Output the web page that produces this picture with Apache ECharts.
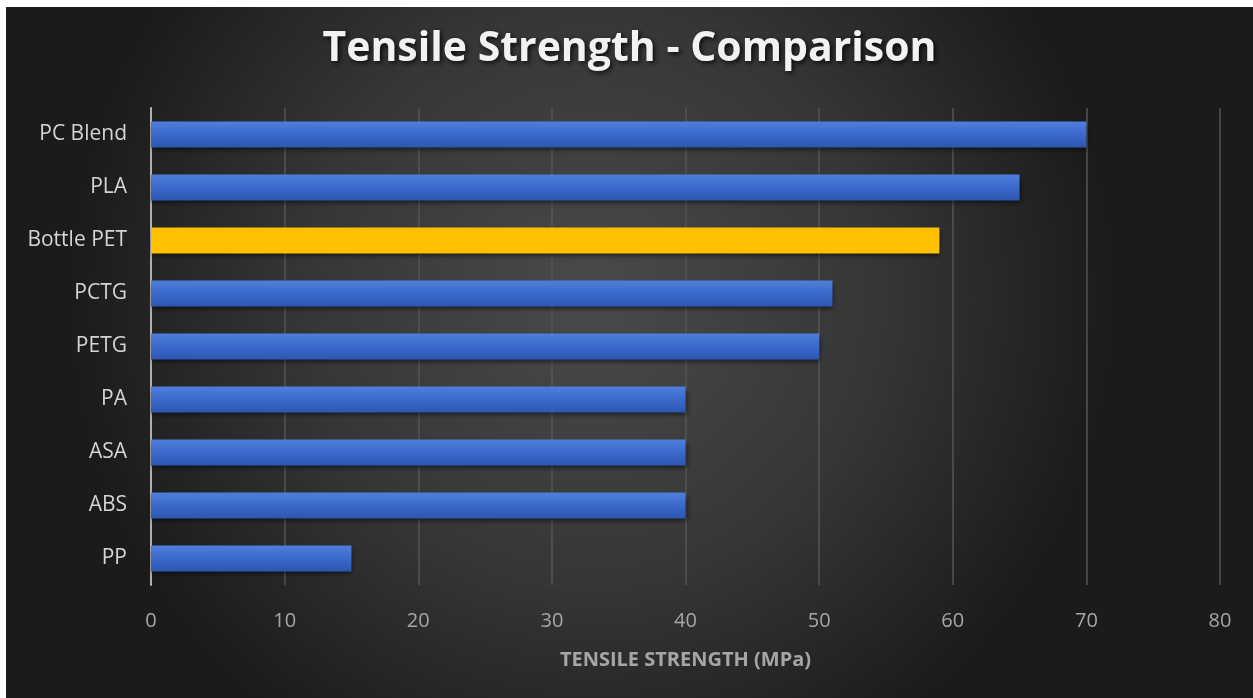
<!DOCTYPE html>
<html>
<head>
<meta charset="utf-8">
<script src="https://cdn.jsdelivr.net/npm/echarts@6/dist/echarts.min.js"></script>
<style>
  html, body { margin: 0; padding: 0; background: #fff; }
  #myChart { position: absolute; left: 6px; top: 7px; width: 1247px; height: 691px; }
</style>
</head>
<body>
<div id="myChart"></div>
<script>
// 数据
var materials = ['PC Blend', 'PLA', 'Bottle PET', 'PCTG', 'PETG', 'PA', 'ASA', 'ABS', 'PP']
var strengths = [70, 65, 59, 51, 50, 40, 40, 40, 15]
var xTicks = [0, 10, 20, 30, 40, 50, 60, 70, 80]
var highlighted = 'Bottle PET'

var blueBar = new echarts.graphic.LinearGradient(0, 0, 0, 1, [
  { offset: 0, color: '#4f7fdc' },
  { offset: 0.5, color: '#3b69cc' },
  { offset: 1, color: '#2c56b0' }
])
var yellowBar = '#ffc000'

var myChart = echarts.init(document.getElementById('myChart'))
myChart.setOption({
  backgroundColor: new echarts.graphic.RadialGradient(0.47, 0.42, 0.75, [
    { offset: 0, color: '#4a4a4a' },
    { offset: 0.55, color: '#363636' },
    { offset: 1, color: '#1b1b1b' }
  ]),
  title: {
    text: 'Tensile Strength - Comparison',
    left: 'center',
    top: 17,
    textStyle: {
      color: '#f2f2f2',
      fontFamily: 'Open Sans',
      fontWeight: 'bold',
      fontSize: 41,
      textShadowColor: 'rgba(0,0,0,0.8)',
      textShadowBlur: 5,
      textShadowOffsetX: 2,
      textShadowOffsetY: 2
    }
  },
  grid: { left: 145, right: 33, top: 101, bottom: 113 },
  xAxis: {
    type: 'value',
    min: xTicks[0],
    max: xTicks[xTicks.length - 1],
    interval: xTicks[1] - xTicks[0],
    name: 'TENSILE STRENGTH (MPa)',
    nameLocation: 'middle',
    nameGap: 65,
    nameTextStyle: { color: '#a6a6a6', fontFamily: 'Open Sans', fontWeight: 'bold', fontSize: 20 },
    axisLine: { show: false },
    axisTick: { show: false },
    axisLabel: { color: '#a6a6a6', fontFamily: 'Open Sans', fontSize: 20, margin: 26 },
    splitLine: { lineStyle: { color: '#555555', width: 1.5 } }
  },
  yAxis: {
    type: 'category',
    data: materials,
    inverse: true,
    axisLine: { show: true, lineStyle: { color: '#b0b0b0', width: 2 } },
    axisTick: { show: false },
    axisLabel: { color: '#d4d4d4', fontFamily: 'Open Sans', fontSize: 21, margin: 24 }
  },
  series: [
    {
      type: 'bar',
      data: strengths.map(function (v, i) {
        return {
          value: v,
          itemStyle: { color: materials[i] === highlighted ? yellowBar : blueBar }
        }
      }),
      barWidth: '49%',
      itemStyle: {
        shadowColor: 'rgba(0,0,0,0.6)',
        shadowBlur: 5,
        shadowOffsetX: 1,
        shadowOffsetY: 3
      },
      animation: false
    }
  ]
})
</script>
</body>
</html>
